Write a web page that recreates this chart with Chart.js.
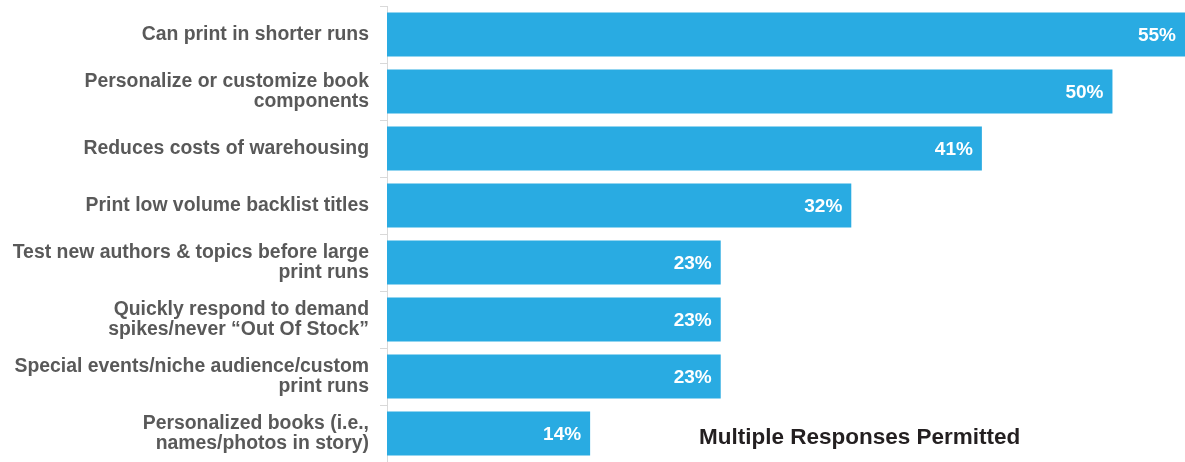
<!DOCTYPE html>
<html>
<head>
<meta charset="utf-8">
<script src="https://cdn.jsdelivr.net/npm/chart.js@4/dist/chart.umd.min.js"></script>
<style>
  html, body { margin: 0; padding: 0; background: #fff; }
  #wrap { width: 1185px; height: 462px; }
</style>
</head>
<body>
<div id="wrap"><canvas id="benefitChart"></canvas></div>
<script>
// categories (multi-line labels as arrays)
const categories = [
    'Can print in shorter runs',
    ['Personalize or customize book', 'components'],
    'Reduces costs of warehousing',
    'Print low volume backlist titles',
    ['Test new authors & topics before large', 'print runs'],
    ['Quickly respond to demand', 'spikes/never \u201cOut Of Stock\u201d'],
    ['Special events/niche audience/custom', 'print runs'],
    ['Personalized books (i.e.,', 'names/photos in story)']
];
const percentages = [55, 50, 41, 32, 23, 23, 23, 14];
const noteText = 'Multiple Responses Permitted';

// white % labels inside bar ends
const barLabels = {
    id: 'barLabels',
    afterDatasetsDraw(chart) {
        const ctx = chart.ctx;
        const meta = chart.getDatasetMeta(0);
        ctx.save();
        ctx.font = 'bold 19px "Liberation Sans", Arial, sans-serif';
        ctx.fillStyle = '#ffffff';
        ctx.textAlign = 'right';
        ctx.textBaseline = 'middle';
        meta.data.forEach((bar, i) => {
            ctx.fillText(percentages[i] + '%', bar.x - 9, bar.y + 1);
        });
        ctx.restore();
    }
};

// note at the bottom right
const note = {
    id: 'note',
    afterDraw(chart) {
        const ctx = chart.ctx;
        ctx.save();
        ctx.font = 'bold 22.5px "Liberation Sans", Arial, sans-serif';
        ctx.fillStyle = '#231f20';
        ctx.textAlign = 'left';
        ctx.textBaseline = 'alphabetic';
        ctx.fillText(noteText, 699, 444);
        ctx.restore();
    }
};

const ctx = document.getElementById('benefitChart').getContext('2d');
const benefitChart = new Chart(ctx, {
    type: 'bar',
    data: {
        labels: categories,
        datasets: [{
            data: percentages,
            backgroundColor: '#29abe2',
            borderWidth: 0,
            barPercentage: 0.77,
            categoryPercentage: 1.0
        }]
    },
    options: {
        indexAxis: 'y',
        responsive: true,
        maintainAspectRatio: false,
        animation: false,
        layout: { padding: { top: 6, right: 0, bottom: 0, left: 0 } },
        plugins: {
            legend: { display: false },
            tooltip: { enabled: false }
        },
        scales: {
            x: {
                display: false,
                min: 0,
                max: 55
            },
            y: {
                afterFit(scale) {
                    scale.width = 387;
                    scale.paddingTop = 0;
                    scale.paddingBottom = 0;
                },
                grid: {
                    offset: true,
                    drawOnChartArea: false,
                    drawTicks: true,
                    tickLength: 7,
                    color: '#d9d9d9'
                },
                border: { color: '#d9d9d9', width: 1 },
                ticks: {
                    padding: 11,
                    color: '#595959',
                    font: { family: '"Liberation Sans", Arial, sans-serif', size: 19.4, weight: 'bold', lineHeight: 1.06 }
                }
            }
        }
    },
    plugins: [barLabels, note]
});
</script>
</body>
</html>
